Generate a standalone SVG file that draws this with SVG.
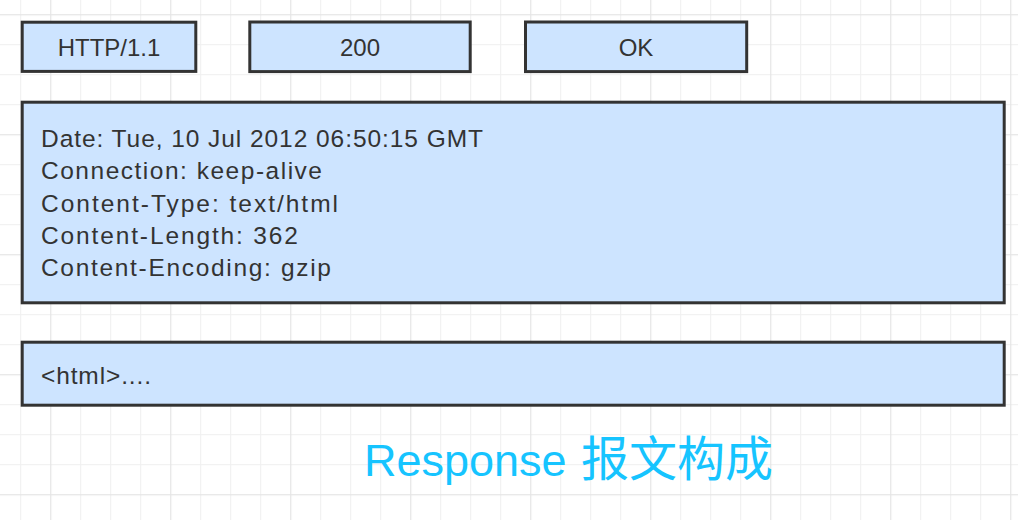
<svg xmlns="http://www.w3.org/2000/svg" width="1018" height="520" viewBox="0 0 1018 520">
  <style>
    .box { fill: #cde4ff; stroke: #333333; stroke-width: 3; }
    .lbl { font-family: "Liberation Sans", Arial, sans-serif; font-size: 24px; fill: #333333; }
    .hdr { font-family: "Liberation Sans", Arial, sans-serif; font-size: 24.5px; fill: #333333; }
    .title { font-family: "Liberation Sans", Arial, "Noto Sans CJK SC", sans-serif; font-size: 45px; fill: #16c4ff; }
  </style>
  <defs>
    <pattern id="grid" patternUnits="userSpaceOnUse" x="20.2" y="14.2" width="120" height="120">
      <rect x="0" y="30" width="120" height="1" fill="#efefef"/>
      <rect x="0" y="60" width="120" height="1" fill="#efefef"/>
      <rect x="0" y="90" width="120" height="1" fill="#efefef"/>
      <rect x="0" y="0" width="1" height="120" fill="#efefef"/>
      <rect x="60" y="0" width="1" height="120" fill="#efefef"/>
      <rect x="90" y="0" width="1" height="120" fill="#efefef"/>
      <rect x="0" y="0" width="120" height="1.2" fill="#e4e4e4"/>
      <rect x="30" y="0" width="1.2" height="120" fill="#e4e4e4"/>
    </pattern>
  </defs>
  <rect x="0" y="0" width="1018" height="520" fill="#ffffff"/>
  <rect x="0" y="0" width="1018" height="520" fill="url(#grid)"/>

  <g id="connectors"></g>

  <g id="node-version">
    <rect class="box" x="22.2" y="22.2" width="173.6" height="49.2"/>
    <text class="lbl" x="109" y="56" text-anchor="middle">HTTP/1.1</text>
  </g>
  <g id="node-status">
    <rect class="box" x="249.8" y="22" width="220.4" height="49.6"/>
    <text class="lbl" x="360" y="56" text-anchor="middle">200</text>
  </g>
  <g id="node-reason">
    <rect class="box" x="525.5" y="22" width="221.2" height="49.6"/>
    <text class="lbl" x="636" y="56" text-anchor="middle">OK</text>
  </g>
  <g id="node-headers">
    <rect class="box" x="22.2" y="102.2" width="982" height="200.6"/>
    <text class="hdr" x="41" y="147" textLength="442" lengthAdjust="spacing">Date: Tue, 10 Jul 2012 06:50:15 GMT</text>
    <text class="hdr" x="41" y="179.3" textLength="281" lengthAdjust="spacing">Connection: keep-alive</text>
    <text class="hdr" x="41" y="211.6" textLength="297" lengthAdjust="spacing">Content-Type: text/html</text>
    <text class="hdr" x="41" y="243.9" textLength="257" lengthAdjust="spacing">Content-Length: 362</text>
    <text class="hdr" x="41" y="276.2" textLength="290" lengthAdjust="spacing">Content-Encoding: gzip</text>
  </g>
  <g id="node-body">
    <rect class="box" x="22.2" y="342.2" width="982" height="63"/>
    <text class="hdr" x="41" y="384" textLength="110" lengthAdjust="spacing">&lt;html&gt;....</text>
  </g>
  <g id="caption">
    <text class="title" x="364" y="476">Response<tspan x="581" font-size="48">报文构成</tspan></text>
  </g>
</svg>
